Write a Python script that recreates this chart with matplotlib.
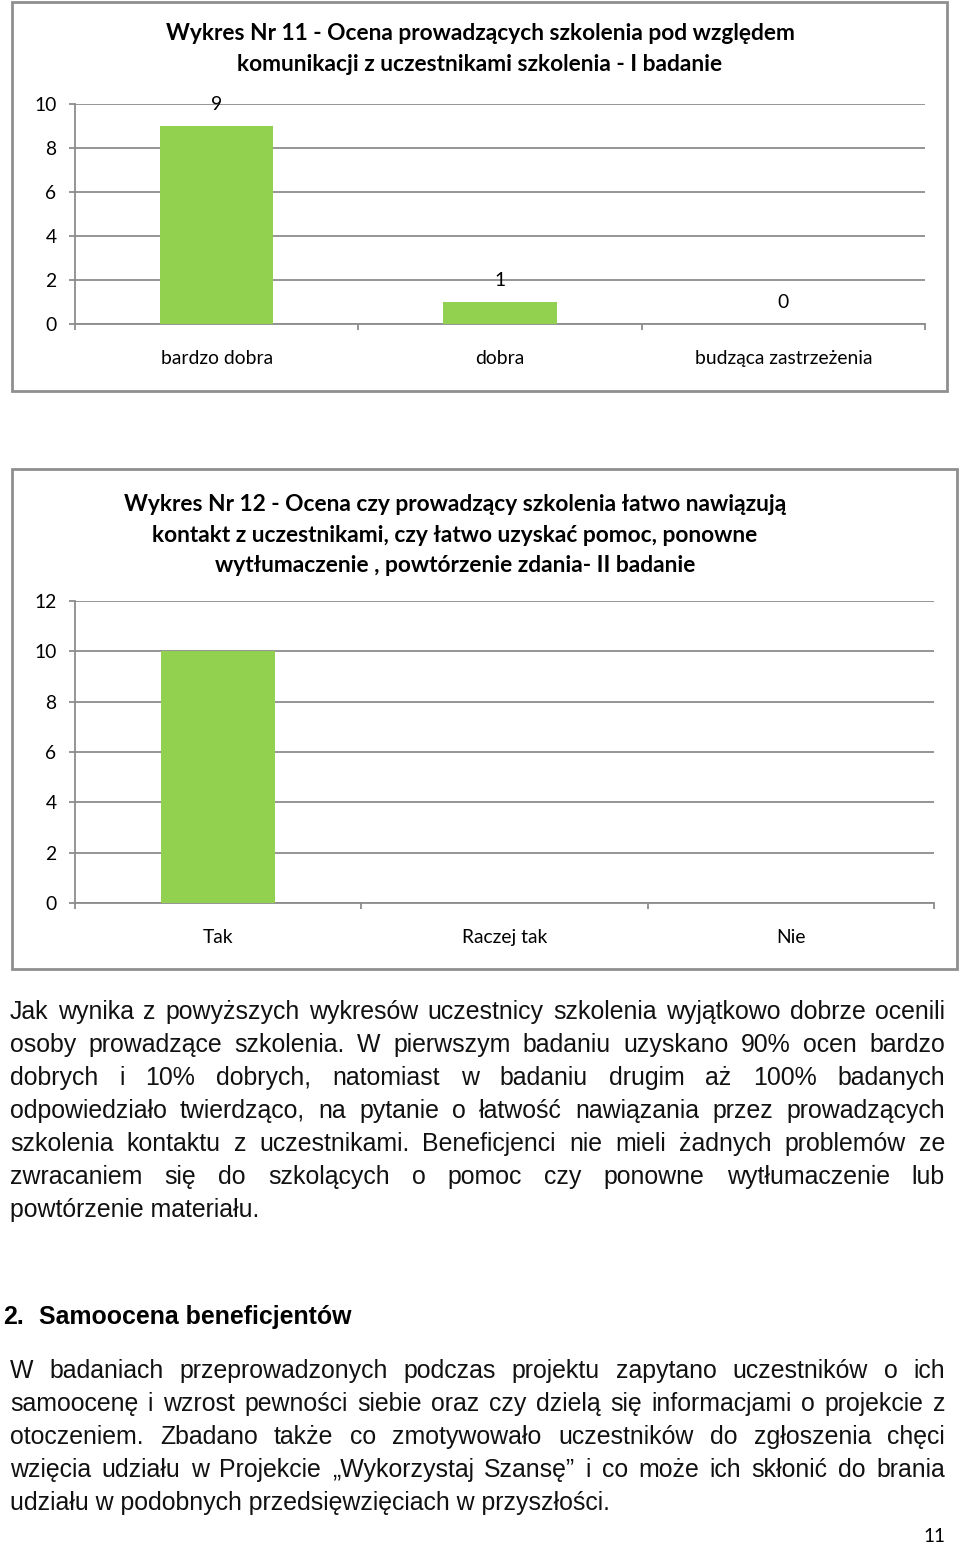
import matplotlib
matplotlib.use('Agg')
import matplotlib.pyplot as plt
from matplotlib.patches import Rectangle

W, H = 960, 1548

categories1 = ['bardzo dobra', 'dobra', 'budząca zastrzeżenia']
values1 = [9, 1, 0]
title1 = 'Wykres Nr 11 - Ocena prowadzących szkolenia pod względem\nkomunikacji z uczestnikami szkolenia - I badanie'

categories2 = ['Tak', 'Raczej tak', 'Nie']
values2 = [10, 0, 0]
title2 = ('Wykres Nr 12 - Ocena czy prowadzący szkolenia łatwo nawiązują\n'
          'kontakt z uczestnikami, czy łatwo uzyskać pomoc, ponowne\n'
          'wytłumaczenie , powtórzenie zdania- II badanie')

para1 = [
    'Jak wynika z powyższych wykresów uczestnicy szkolenia wyjątkowo dobrze ocenili',
    'osoby prowadzące szkolenia. W pierwszym badaniu uzyskano 90% ocen bardzo',
    'dobrych i 10% dobrych, natomiast w badaniu drugim aż 100% badanych',
    'odpowiedziało twierdząco, na pytanie o łatwość nawiązania przez prowadzących',
    'szkolenia kontaktu z uczestnikami. Beneficjenci nie mieli żadnych problemów ze',
    'zwracaniem się do szkolących o pomoc czy ponowne wytłumaczenie lub',
    'powtórzenie materiału.',
]
heading = 'Samoocena beneficjentów'
para2 = [
    'W badaniach przeprowadzonych podczas projektu zapytano uczestników o ich',
    'samoocenę i wzrost pewności siebie oraz czy dzielą się informacjami o projekcie z',
    'otoczeniem. Zbadano także co zmotywowało uczestników do zgłoszenia chęci',
    'wzięcia udziału w Projekcie „Wykorzystaj Szansę” i co może ich skłonić do brania',
    'udziału w podobnych przedsięwzięciach w przyszłości.',
]

GREEN = '#92D050'
GRID = '#8c8c8c'
CHART_FONT = 'Lato'
TEXT_FONT = 'Liberation Sans'
TICK_SIZE = 13.9

fig = plt.figure(figsize=(W / 100, H / 100), dpi=100)


def px_rect(x0, y0, x1, y1):
    return [x0 / W, 1 - y1 / H, (x1 - x0) / W, (y1 - y0) / H]


def frame(x0, y0, x1, y1):
    fig.patches.append(Rectangle((x0 / W, 1 - y1 / H), (x1 - x0) / W, (y1 - y0) / H,
                                 transform=fig.transFigure, fill=False,
                                 edgecolor='#8f8f8f', lw=2.0))


def bar_chart(rect, cats, vals, ymax, labels):
    ax = fig.add_axes(rect)
    x = range(len(cats))
    ax.bar(x, vals, width=0.4, color=GREEN, zorder=3)
    ax.set_xlim(-0.5, len(cats) - 0.5)
    ax.set_ylim(0, ymax)
    ax.set_yticks(range(0, ymax + 1, 2))
    ax.yaxis.grid(True, color=GRID, lw=1.3, zorder=0)
    ax.set_axisbelow(True)
    for s in ['top', 'right']:
        ax.spines[s].set_visible(False)
    for s in ['left', 'bottom']:
        ax.spines[s].set_color(GRID)
        ax.spines[s].set_linewidth(1.3)
    ax.set_xticks([i - 0.5 for i in range(len(cats) + 1)], minor=False)
    ax.set_xticklabels([])
    ax.tick_params(axis='x', length=4.3, color=GRID, width=1.3)
    ax.set_xticks(list(x), minor=True)
    ax.set_xticklabels(cats, minor=True, fontsize=TICK_SIZE, family=CHART_FONT)
    ax.tick_params(axis='x', which='minor', length=0, pad=18.6)
    ax.tick_params(axis='y', length=4.3, color=GRID, width=1.3, pad=9,
                   labelsize=TICK_SIZE)
    for t in ax.get_yticklabels():
        t.set_family(CHART_FONT)
    if labels:
        for i, v in zip(x, vals):
            ax.annotate(str(v), (i, v), xytext=(0, 15.5), textcoords='offset points',
                        ha='center', va='center', fontsize=TICK_SIZE, family=CHART_FONT)
    return ax


# chart 1
frame(12, 2, 947, 391)
bar_chart(px_rect(75, 104, 925, 324), categories1, values1, 10, True)
fig.text(480 / W, 1 - 49 / H, title1, ha='center', va='center', fontsize=16.4,
         fontweight='bold', family=CHART_FONT, linespacing=1.58)

# chart 2
frame(12, 469, 957, 969)
bar_chart(px_rect(75, 601, 934, 903), categories2, values2, 12, False)
fig.text(455 / W, 1 - 535 / H, title2, ha='center', va='center', fontsize=16.4,
         fontweight='bold', family=CHART_FONT, linespacing=1.55)

# justified body text
renderer = fig.canvas.get_renderer()
TEXT_SIZE = 17.9
X_LEFT, X_RIGHT = 10, 945


def write_lines(lines, y_start, step):
    for n, line in enumerate(lines):
        y = 1 - (y_start + n * step) / H
        words = line.split(' ')
        last = n == len(lines) - 1
        if last:
            fig.text(X_LEFT / W, y, line, ha='left', va='center', fontsize=TEXT_SIZE,
                     family=TEXT_FONT, color='#111111')
            continue
        items = []
        for w in words:
            t = fig.text(0, y, w, ha='left', va='center', fontsize=TEXT_SIZE,
                         family=TEXT_FONT, color='#111111')
            items.append((t, t.get_window_extent(renderer).width))
        total = sum(wd for _, wd in items)
        gap = (X_RIGHT - X_LEFT - total) / (len(items) - 1)
        xpos = X_LEFT
        for t, wd in items:
            t.set_x(xpos / W)
            xpos += wd + gap


write_lines(para1, 1012, 33)
fig.text(3 / W, 1 - 1317 / H, '2.', ha='left', va='center', fontsize=TEXT_SIZE,
         fontweight='bold', family=TEXT_FONT)
fig.text(39 / W, 1 - 1317 / H, heading, ha='left', va='center', fontsize=TEXT_SIZE,
         fontweight='bold', family=TEXT_FONT)
write_lines(para2, 1371, 33)

fig.text(945 / W, 1 - 1537 / H, '11', ha='right', va='center', fontsize=13.5,
         family=CHART_FONT)

fig.savefig('out.png', dpi=100)
